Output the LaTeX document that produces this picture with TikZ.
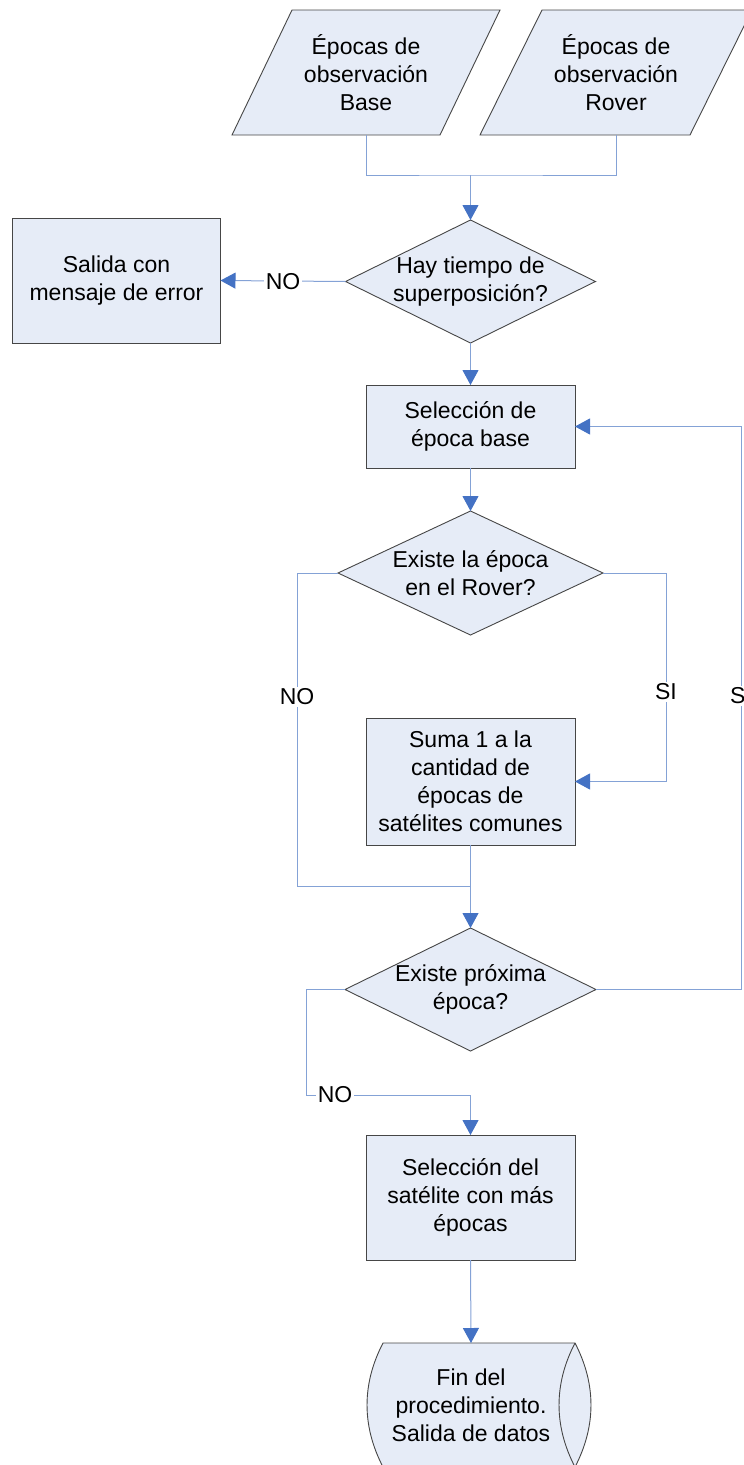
\documentclass[tikz,border=0pt]{standalone}
\usepackage{fontspec}
\setmainfont{Liberation Sans}
\usetikzlibrary{arrows.meta}
\definecolor{shapefill}{RGB}{230,236,247}
\definecolor{shapeline}{RGB}{70,70,70}
\definecolor{linkblue}{RGB}{132,162,214}
\definecolor{tipblue}{RGB}{68,114,196}
\pgfdeclarelayer{bg}
\pgfsetlayers{bg,main}
\tikzset{
  box/.style={rectangle, inner sep=0pt, outer sep=0pt, align=center,
    font=\fontsize{23}{28}\selectfont},
  outline/.style={draw=shapeline, fill=shapefill, line width=0.9pt},
  link/.style={draw=linkblue, line width=1pt},
  flow/.style={link, -{Triangle[length=15pt,width=16pt,color=tipblue,fill=tipblue]}},
  lbl/.style={fill=white, inner sep=1.5pt, font=\fontsize{23}{28}\selectfont},
}
\begin{document}
\begin{tikzpicture}[x=1pt, y=-1pt]
\useasboundingbox (0,0) rectangle (744,1465);
\clip (0,0) rectangle (744,1465);

% text nodes (their outlines are drawn on the background layer)
\node[box, minimum width=268pt, minimum height=125pt] (p1) at (366,72.5) {Épocas de\\observación\\Base};
\node[box, minimum width=272pt, minimum height=125pt] (p2) at (616,72.5) {Épocas de\\observación\\Rover};
\node[box, minimum width=208pt, minimum height=125pt] (err) at (116.5,280.5) {Salida con\\mensaje de error};
\node[box, minimum width=250pt, minimum height=123pt] (d1) at (470.5,281.5) {Hay tiempo de\\superposición?};
\node[box, minimum width=209pt, minimum height=83pt] (b1) at (470.5,426.5) {Selección de\\época base};
\node[box, minimum width=265pt, minimum height=124pt] (d2) at (470.5,573) {Existe la época\\en el Rover?};
\node[box, minimum width=209pt, minimum height=127pt] (b2) at (470.5,781.5) {Suma 1 a la\\cantidad de\\épocas de\\satélites comunes};
\node[box, minimum width=251pt, minimum height=123pt] (d3) at (470.5,989.5) {Existe próxima\\época?};
\node[box, minimum width=209pt, minimum height=125pt] (b3) at (470.5,1197.5) {Selección del\\satélite con más\\épocas};
\node[box, minimum width=176pt, minimum height=124pt] (fin) at (471,1405) {Fin del\\procedimiento.\\Salida de datos};

\begin{pgfonlayer}{bg}
  % input parallelograms
  \draw[outline] ([xshift=60pt]p1.north west) -- (p1.north east) -- ([xshift=-60pt]p1.south east) -- (p1.south west) -- cycle;
  \draw[outline] ([xshift=62pt]p2.north west) -- (p2.north east) -- ([xshift=-62pt]p2.south east) -- (p2.south west) -- cycle;
  % process boxes
  \draw[outline] (err.south west) rectangle (err.north east);
  \draw[outline] (b1.south west) rectangle (b1.north east);
  \draw[outline] (b2.south west) rectangle (b2.north east);
  \draw[outline] (b3.south west) rectangle (b3.north east);
  % decisions
  \draw[outline] (d1.north) -- (d1.east) -- (d1.south) -- (d1.west) -- cycle;
  \draw[outline] (d2.north) -- (d2.east) -- (d2.south) -- (d2.west) -- cycle;
  \draw[outline] (d3.north) -- (d3.east) -- (d3.south) -- (d3.west) -- cycle;
  % stored data terminal
  \draw[outline] (383,1343) -- (575,1343) .. controls (596.3,1384) and (596.3,1426) .. (575,1467)
    -- (383,1467) .. controls (361.7,1426) and (361.7,1384) .. (383,1343) -- cycle;
  \draw[draw=shapeline, line width=0.9pt] (575,1343) .. controls (553.7,1384) and (553.7,1426) .. (575,1467);
\end{pgfonlayer}

% junction points
\coordinate (jtop) at (470.5,175);
\coordinate (jmid) at (470.5,886);
\coordinate (jlow) at (470.5,1095);

% connectors
\draw[link] (p1.south) |- (jtop) -| (p2.south);
\draw[flow] (jtop) -- (d1.north);
\draw[flow] (d1.west) -- (err.east);
\draw[flow] (d1.south) -- (b1.north);
\draw[flow] (b1.south) -- (d2.north);
\draw[flow] (d2.east) -- ++(63,0) |- (b2.east);
\draw[link] (d2.west) -- ++(-41,0) |- (jmid);
\draw[flow] (b2.south) -- (d3.north);
\draw[flow] (d3.east) -- ++(145,0) |- (b1.east);
\draw[link] (d3.west) -- ++(-39,0) |- (jlow);
\draw[flow] (jlow) -- (b3.north);
\draw[flow] (b3.south) -- (fin.north);

% branch labels
\node[lbl] (no1) at (283,281.5) {NO};
\node[lbl] (no2) at (297,697) {NO};
\node[lbl] (si1) at (666,692) {SI};
\node[lbl] (si2) at (741,696) {SI};
\node[lbl] (no3) at (335,1095) {NO};
\end{tikzpicture}
\end{document}
